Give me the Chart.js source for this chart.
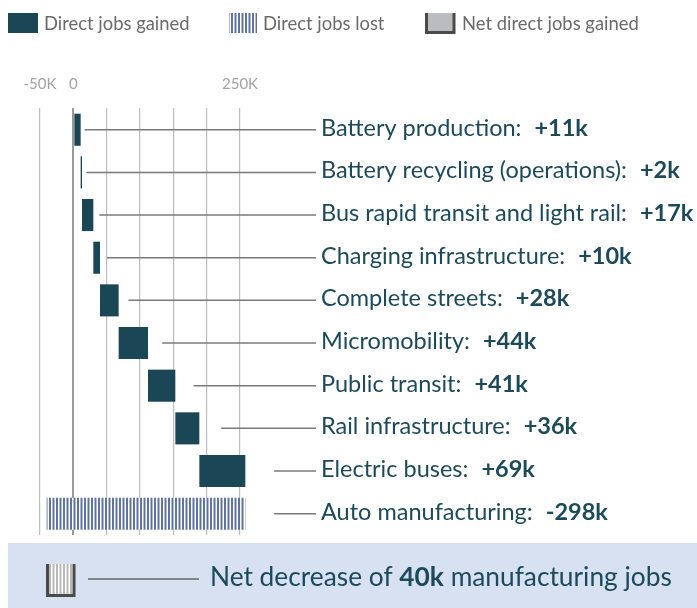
<!DOCTYPE html>
<html>
<head>
<meta charset="utf-8">
<script src="https://cdn.jsdelivr.net/npm/chart.js@4.4.0/dist/chart.umd.min.js"></script>
<style>
  html, body { margin: 0; padding: 0; background: #fff; }
  #wrap { width: 697px; height: 608px; position: relative; }
</style>
</head>
<body>
<div id="wrap"><canvas id="jobs"></canvas></div>
<script>
// job changes by sector, in thousands
const categories = [
  'Battery production',
  'Battery recycling (operations)',
  'Bus rapid transit and light rail',
  'Charging infrastructure',
  'Complete streets',
  'Micromobility',
  'Public transit',
  'Rail infrastructure',
  'Electric buses',
  'Auto manufacturing'
];
const changes = [11, 2, 17, 10, 28, 44, 41, 36, 69, -298];
const tickLabels = { '-50': '-50K', '0': '0', '250': '250K' };
const legendLabels = ['Direct jobs gained', 'Direct jobs lost', 'Net direct jobs gained'];

const gainColor = '#1b4656';
const lossColor = '#5f72a0';
const textColor = '#1c4a5b';
const font = 'Lato, "Open Sans", sans-serif';

// running total -> floating bars
let running = 0;
const spans = changes.map(function (v) {
  const from = running;
  running += v;
  return [from, running];
});
const netChange = running;

function stripePattern(color, bg) {
  const c = document.createElement('canvas');
  c.width = 7; c.height = 10;
  const ctx = c.getContext('2d');
  ctx.fillStyle = bg;
  ctx.fillRect(0, 0, 7, 10);
  ctx.fillStyle = color;
  ctx.fillRect(0, 0, 2, 10);
  ctx.fillRect(3.5, 0, 2, 10);
  return ctx.createPattern(c, 'repeat');
}
const lossPattern = stripePattern(lossColor, '#ffffff');
const netPattern = stripePattern('#b9b9b9', '#ffffff');

function fmt(v) {
  return (v > 0 ? '+' : '-') + Math.abs(v) + 'k';
}

// box with a dark frame on left, bottom and right
function netIcon(ctx, x, y, w, h, fill) {
  ctx.fillStyle = fill;
  ctx.fillRect(x, y, w, h);
  ctx.strokeStyle = '#4a4a4a';
  ctx.lineWidth = 3;
  ctx.beginPath();
  ctx.moveTo(x + 1.5, y);
  ctx.lineTo(x + 1.5, y + h - 1.5);
  ctx.lineTo(x + w - 1, y + h - 1.5);
  ctx.lineTo(x + w - 1, y);
  ctx.stroke();
}

const annotations = {
  id: 'annotations',
  afterDraw: function (chart) {
    const ctx = chart.ctx;
    const xs = chart.scales.x;
    const ys = chart.scales.y;
    ctx.save();

    // legend
    ctx.font = '18.4px ' + font;
    ctx.textBaseline = 'alphabetic';
    ctx.fillStyle = gainColor;
    ctx.fillRect(8, 13, 30, 20);
    ctx.fillStyle = lossPattern;
    ctx.fillRect(229, 13, 28, 20);
    netIcon(ctx, 425, 13, 30, 21, '#bbbcc1');
    ctx.fillStyle = '#6a6a6a';
    ctx.fillText(legendLabels[0], 44, 30);
    ctx.fillText(legendLabels[1], 263, 30);
    ctx.fillText(legendLabels[2], 462, 30);

    // leader lines and labels
    const labelX = 321;
    categories.forEach(function (name, i) {
      const y = ys.getPixelForValue(i);
      const endPx = xs.getPixelForValue(Math.max(spans[i][0], spans[i][1]));
      const startPx = endPx + 3 + 0.15 * (endPx - xs.getPixelForValue(0));
      ctx.strokeStyle = '#7a7a7a';
      ctx.lineWidth = 1.5;
      ctx.beginPath();
      ctx.moveTo(startPx, y);
      ctx.lineTo(labelX - 5, y);
      ctx.stroke();

      ctx.fillStyle = textColor;
      ctx.font = '23.5px ' + font;
      const head = name + ':';
      ctx.fillText(head, labelX, y + 6);
      const w = ctx.measureText(head).width;
      ctx.font = 'bold 23.5px ' + font;
      ctx.fillText(fmt(changes[i]), labelX + w + 13, y + 6);
    });

    // net summary box
    ctx.fillStyle = '#d7e1f1';
    ctx.fillRect(8, 543, chart.width - 8, chart.height - 543);
    netIcon(ctx, 46, 564, 29, 33, netPattern);
    ctx.strokeStyle = '#666666';
    ctx.lineWidth = 1.5;
    ctx.beginPath();
    ctx.moveTo(88, 579);
    ctx.lineTo(199, 579);
    ctx.stroke();

    const parts = [
      ['Net ' + (netChange < 0 ? 'decrease' : 'increase') + ' of ', ''],
      [Math.abs(netChange) + 'k', 'bold '],
      [' manufacturing jobs', '']
    ];
    let tx = 210;
    ctx.fillStyle = textColor;
    parts.forEach(function (p) {
      ctx.font = p[1] + '26.3px ' + font;
      ctx.fillText(p[0], tx, 586);
      tx += ctx.measureText(p[0]).width;
    });
    ctx.restore();
  }
};

new Chart(document.getElementById('jobs'), {
  type: 'bar',
  data: {
    labels: categories,
    datasets: [{
      data: spans,
      backgroundColor: changes.map(function (v) { return v >= 0 ? gainColor : lossPattern; }),
      borderWidth: 0,
      borderSkipped: false,
      categoryPercentage: 1,
      barPercentage: 0.752,
      clip: false
    }]
  },
  options: {
    indexAxis: 'y',
    responsive: true,
    maintainAspectRatio: false,
    animation: false,
    layout: { padding: { left: 40, right: 457, top: 59, bottom: 73 } },
    plugins: {
      legend: { display: false },
      tooltip: { enabled: false }
    },
    scales: {
      x: {
        position: 'top',
        min: -50,
        max: 250,
        border: { display: false },
        grid: {
          drawTicks: false,
          color: function (c) { return c.tick && c.tick.value === 0 ? '#999999' : '#bdbdbd'; },
          lineWidth: function (c) { return c.tick && c.tick.value === 0 ? 2 : 1.2; }
        },
        ticks: {
          stepSize: 50,
          padding: 15.7,
          autoSkip: false,
          maxRotation: 0,
          minRotation: 0,
          color: '#a3a3a3',
          font: { family: font, size: 15 },
          callback: function (v) { return tickLabels[v] || ''; }
        }
      },
      y: { display: false }
    }
  },
  plugins: [annotations]
});
</script>
</body>
</html>
